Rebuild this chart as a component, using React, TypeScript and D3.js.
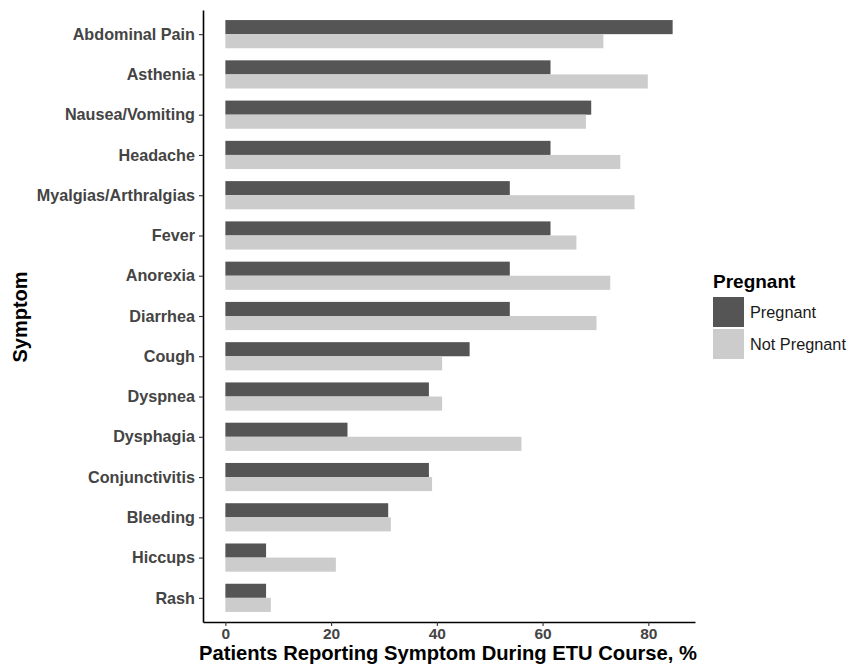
import React, { useEffect, useRef } from 'react';
import * as d3 from 'd3';

const symptoms = [
  'Abdominal Pain', 'Asthenia', 'Nausea/Vomiting', 'Headache', 'Myalgias/Arthralgias',
  'Fever', 'Anorexia', 'Diarrhea', 'Cough', 'Dyspnea', 'Dysphagia', 'Conjunctivitis',
  'Bleeding', 'Hiccups', 'Rash',
];
const pregnant = [84.6, 61.5, 69.2, 61.5, 53.8, 61.5, 53.8, 53.8, 46.2, 38.5, 23.1, 38.5, 30.8, 7.7, 7.7];
const notPregnant = [71.5, 79.9, 68.2, 74.7, 77.4, 66.4, 72.8, 70.2, 41.0, 41.0, 56.0, 39.1, 31.3, 20.9, 8.6];
const groups = ['Pregnant', 'Not Pregnant'];
const groupColors = ['#555555', '#cccccc'];
const xTicks = [0, 20, 40, 60, 80];

const FONT = '"Liberation Sans", Arial, sans-serif';

export default function App() {
  const svgRef = useRef<SVGSVGElement>(null);

  useEffect(() => {
    document.body.style.margin = '0';
    if (!svgRef.current) return;
    const width = 848;
    const height = 667;
    const left = 203, right = 695, top = 10, bottom = 622;

    const svg = d3.select(svgRef.current);
    svg.selectAll('*').remove();
    svg.attr('width', width).attr('height', height).style('font-family', FONT);

    const maxV = d3.max([...pregnant, ...notPregnant]) as number;
    const pad = maxV * 0.05;
    const x = d3.scaleLinear().domain([-pad, maxV + pad]).range([left, right]);
    const y = d3.scalePoint<string>().domain(symptoms).range([top, bottom]).padding(0.6);
    const barH = y.step() * 0.35;

    // bars
    const data = symptoms.flatMap((s, i) => [
      { s, g: 0, v: pregnant[i] },
      { s, g: 1, v: notPregnant[i] },
    ]);
    svg.append('g')
      .selectAll('rect')
      .data(data)
      .join('rect')
      .attr('x', x(0))
      .attr('y', d => (y(d.s) as number) - barH + d.g * barH)
      .attr('width', d => x(d.v) - x(0))
      .attr('height', barH)
      .attr('fill', d => groupColors[d.g]);

    // x axis
    const xAxis = svg.append('g').attr('transform', `translate(0,${bottom})`)
      .call(d3.axisBottom(x).tickValues(xTicks).tickSize(4).tickSizeOuter(0).tickPadding(2));
    xAxis.select('.domain').attr('stroke', '#000').attr('stroke-width', 1.6);
    xAxis.selectAll('.tick line').attr('stroke', '#333').attr('stroke-width', 1.1);
    xAxis.selectAll('.tick text')
      .attr('fill', '#444').style('font-size', '15.5px').style('font-weight', 'bold')
      .style('font-family', FONT);

    // y axis
    const yAxis = svg.append('g').attr('transform', `translate(${left},0)`)
      .call(d3.axisLeft(y).tickSize(4).tickSizeOuter(0).tickPadding(4));
    yAxis.select('.domain').attr('stroke', '#000').attr('stroke-width', 1.6);
    yAxis.selectAll('.tick line').attr('stroke', '#333').attr('stroke-width', 1.1);
    yAxis.selectAll('.tick text')
      .attr('fill', '#444').style('font-size', '16.2px').style('font-weight', 'bold')
      .style('font-family', FONT);

    // axis titles
    svg.append('text')
      .attr('x', (left + right) / 2 - 1).attr('y', 660)
      .attr('text-anchor', 'middle')
      .style('font-size', '20.2px').style('font-weight', 'bold').attr('fill', '#000')
      .text('Patients Reporting Symptom During ETU Course, %');
    svg.append('text')
      .attr('transform', `translate(27,317) rotate(-90)`)
      .attr('text-anchor', 'middle')
      .style('font-size', '20px').style('font-weight', 'bold').attr('fill', '#000')
      .text('Symptom');

    // legend
    const lg = svg.append('g').attr('transform', 'translate(713,270)');
    lg.append('text').attr('x', 0).attr('y', 18)
      .style('font-size', '19px').style('font-weight', 'bold').attr('fill', '#000')
      .text('Pregnant');
    groups.forEach((g, i) => {
      lg.append('rect')
        .attr('x', 0).attr('y', 27 + i * 32)
        .attr('width', 31).attr('height', 30)
        .attr('fill', groupColors[i]);
      lg.append('text')
        .attr('x', 37).attr('y', 42 + i * 32)
        .attr('dominant-baseline', 'central')
        .style('font-size', '16.3px').attr('fill', '#1a1a1a')
        .text(g);
    });
  }, []);

  return <svg ref={svgRef}></svg>;
}
